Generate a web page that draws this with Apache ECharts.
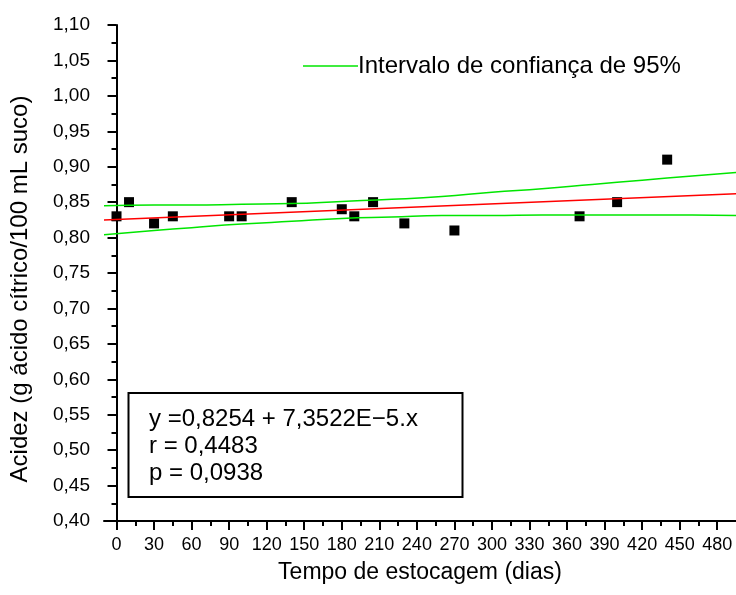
<!DOCTYPE html>
<html lang="pt">
<head>
	<meta charset="UTF-8">
	<title>Acidez x tempo de estocagem</title>
	<style>
		html,body{margin:0;padding:0;background:#fff;}
	</style>
</head>
<body>
	<div id="grafico" style="width:736px;height:595px;"></div>
<script src="https://cdn.jsdelivr.net/npm/echarts@6.0.0/dist/echarts.min.js"></script>
<script>
	// pontos medidos
	var dias = [0, 10, 30, 45, 90, 100, 140, 180, 190, 205, 230, 270, 370, 400, 440];
	var acidez = [0.83, 0.85, 0.82, 0.83, 0.83, 0.83, 0.85, 0.84, 0.83, 0.85, 0.82, 0.81, 0.83, 0.85, 0.91];

	// reta ajustada (extremos do eixo)
	var ajusteX = [-10, 495];
	var ajusteY = [0.8247, 0.8618];

	// intervalo de confianca de 95%
	var bandaX = [-10, 30, 60, 100, 140, 180, 220, 260, 300, 340, 380, 420, 460, 495];
	var bandaSup = [0.845, 0.846, 0.846, 0.847, 0.848, 0.851, 0.854, 0.858, 0.864, 0.869, 0.875, 0.881, 0.887, 0.892];
	var bandaInf = [0.804, 0.810, 0.814, 0.819, 0.823, 0.827, 0.829, 0.831, 0.831, 0.832, 0.832, 0.832, 0.832, 0.831];

	// marcas do eixo x
	var xTicks = [0, 30, 60, 90, 120, 150, 180, 210, 240, 270, 300, 330, 360, 390, 420, 450, 480];
	var xMinor = [15, 45, 75, 105, 135, 165, 195, 225, 255, 285, 315, 345, 375, 405, 435, 465];

	var legenda = 'Intervalo de confiança de 95%';
	var caixa = ['y =0,8254 + 7,3522E\u22125.x', 'r = 0,4483', 'p = 0,0938'];

	function pares(xs, ys){
		var out = [];
		for(var i=0;i<xs.length;i++){
			out.push([xs[i], ys[i]]);
		}
		return out;
	}

	var fonte = '"Liberation Sans", Arial, sans-serif';
	var chart = echarts.init(document.getElementById('grafico'));

	var textosCaixa = [];
	for(var i=0;i<caixa.length;i++){
		textosCaixa.push({
			type: 'text',
			left: 149,
			top: 407 + i*27,
			style: {text: caixa[i], fill: '#000', font: '24px ' + fonte}
		});
	}

	var areaGrid = {left: 104, right: 0, top: 25, bottom: 74, outerBoundsMode: 'none'};

	var option = {
		backgroundColor: '#fff',
		animation: false,
		grid: [areaGrid, areaGrid],
		legend: {
			left: 298,
			top: 49,
			itemWidth: 55,
			itemHeight: 1.5,
			icon: 'rect',
			data: [legenda],
			textStyle: {color: '#000', fontSize: 24, fontFamily: fonte, padding: [0,0,0,-5]}
		},
		xAxis: [
			{
				type: 'value',
				gridIndex: 0,
				min: -10,
				max: 495,
				name: 'Tempo de estocagem (dias)',
				nameLocation: 'middle',
				nameGap: 40,
				nameTextStyle: {color: '#000', fontSize: 23, fontFamily: fonte},
				splitLine: {show: false},
				axisLine: {onZero: false, lineStyle: {color: '#000', width: 2}},
				axisTick: {customValues: xTicks, length: 9, lineStyle: {color: '#000', width: 2}},
				axisLabel: {customValues: xTicks, hideOverlap: false, margin: 15, color: '#000', fontSize: 18, fontFamily: fonte}
			},
			{
				// marcas menores, em outra grade sobreposta
				type: 'value',
				gridIndex: 1,
				min: -10,
				max: 495,
				splitLine: {show: false},
				axisLine: {show: false},
				axisTick: {customValues: xMinor, length: 5, lineStyle: {color: '#000', width: 2}},
				axisLabel: {show: false}
			}
		],
		yAxis: [
			{
				type: 'value',
				gridIndex: 0,
				min: 0.4,
				max: 1.1,
				interval: 0.05,
				splitLine: {show: false},
				axisLine: {show: true, lineStyle: {color: '#000', width: 2}},
				axisTick: {show: true, length: 9, lineStyle: {color: '#000', width: 2}},
				minorTick: {show: true, splitNumber: 2, length: 5, lineStyle: {color: '#000', width: 2}},
				axisLabel: {
					margin: 14,
					color: '#000',
					fontSize: 19,
					fontFamily: fonte,
					formatter: function(v){ return v.toFixed(2).replace('.', ','); }
				}
			},
			{
				type: 'value',
				gridIndex: 1,
				min: 0.4,
				max: 1.1,
				show: false
			}
		],
		graphic: [
			{
				type: 'text',
				x: 20,
				y: 289,
				rotation: Math.PI/2,
				style: {
					text: 'Acidez (g ácido cítrico/100 mL suco)',
					fill: '#000',
					font: '24px ' + fonte,
					align: 'center',
					verticalAlign: 'middle'
				}
			},
			{
				type: 'rect',
				shape: {x: 128.5, y: 393, width: 334, height: 104},
				style: {fill: 'none', stroke: '#000', lineWidth: 2}
			}
		].concat(textosCaixa),
		series: [
			{
				name: legenda,
				type: 'line',
				data: pares(bandaX, bandaSup),
				smooth: true,
				symbol: 'none',
				lineStyle: {color: '#00e600', width: 1.5},
				itemStyle: {color: '#00e600'}
			},
			{
				name: legenda,
				type: 'line',
				data: pares(bandaX, bandaInf),
				smooth: true,
				symbol: 'none',
				lineStyle: {color: '#00e600', width: 1.5},
				itemStyle: {color: '#00e600'}
			},
			{
				name: 'ajuste',
				type: 'line',
				data: pares(ajusteX, ajusteY),
				symbol: 'none',
				lineStyle: {color: '#ff0000', width: 1.5}
			},
			{
				name: 'dados',
				type: 'scatter',
				data: pares(dias, acidez),
				symbol: 'rect',
				symbolSize: 10,
				itemStyle: {color: '#000', opacity: 1}
			}
		]
	};
	chart.setOption(option);
</script>
</body>
</html>
